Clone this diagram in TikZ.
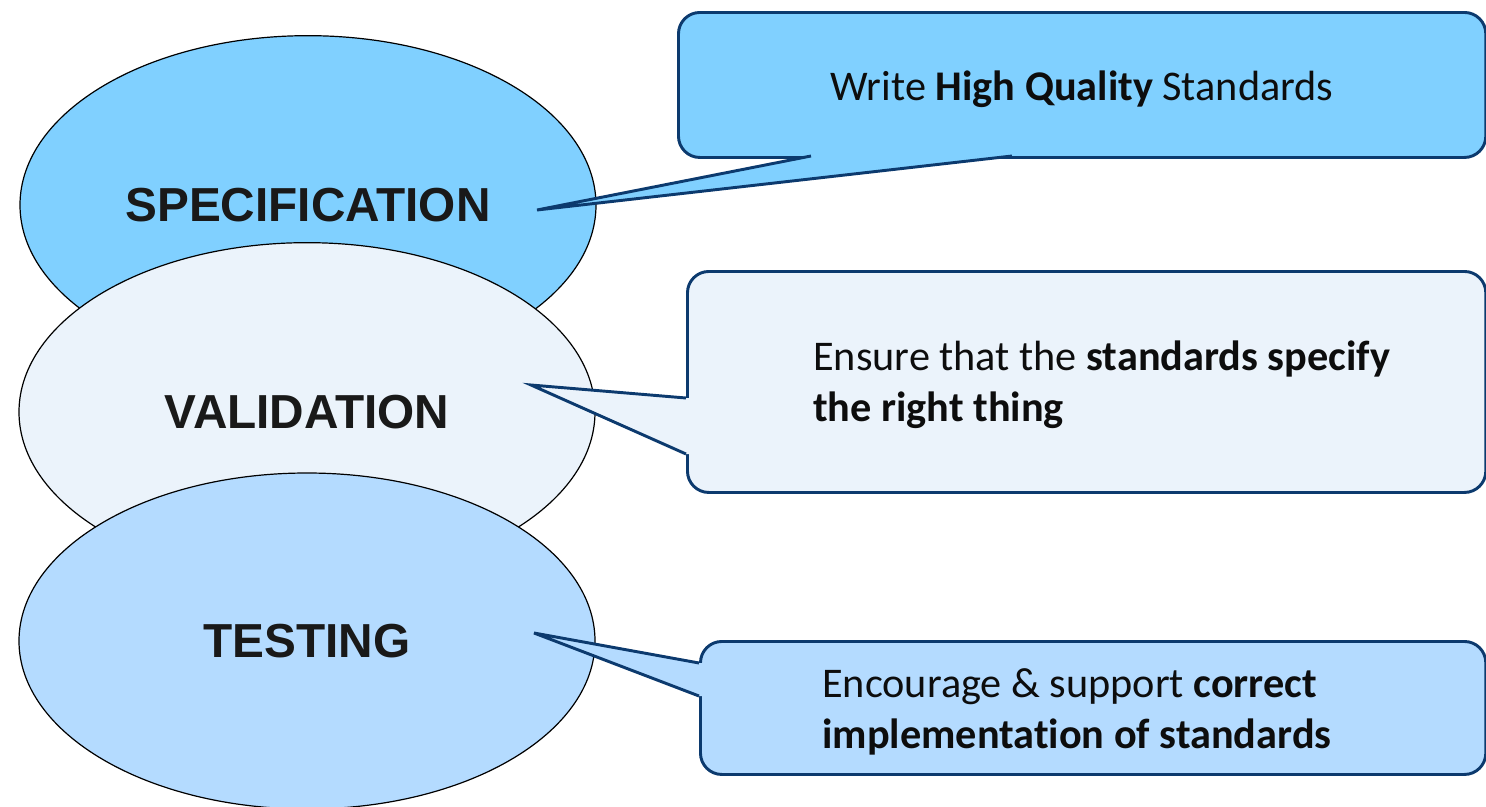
\documentclass[tikz,border=0pt]{standalone}
\usepackage{fontspec}
\setmainfont{Carlito}[Ligatures=NoCommon]
\newfontfamily\headfont{Liberation Sans}
\usetikzlibrary{shapes.geometric,calc}
\definecolor{cA}{HTML}{80D0FF}
\definecolor{cB}{HTML}{EBF3FB}
\definecolor{cC}{HTML}{B4DBFF}
\definecolor{navy}{HTML}{0C3A6E}
\begin{document}
\begin{tikzpicture}[x=0.75pt,y=-0.75pt,
  oval/.style={ellipse, draw=black, line width=0.9pt, minimum width=432pt, minimum height=254pt, inner sep=0pt,
    font=\headfont\bfseries\fontsize{35.8}{40}\selectfont, text=black!90},
  box/.style={draw=navy, line width=2.2pt, rounded corners=16pt, inner sep=0pt, anchor=north west},
  ptr/.style={draw=navy, line width=2.2pt, line join=miter},
  txt/.style={font=\fontsize{31.7}{38.3}\selectfont, align=left, inner sep=0pt, text=black!95}]
\useasboundingbox (0,0) rectangle (1486,807);

% ellipses
\node[oval, fill=cA] (spec) at (308,205) {SPECIFICATION};
\node[oval, fill=cB] (vali) at (307,412) {VALIDATION};
\node[oval, fill=cC, minimum height=252pt] (test) at (307,641) {TESTING};

% callout 1
\node[box, fill=cA, minimum width=605.5pt, minimum height=108.75pt] (b1) at (677,11) {};
\coordinate (p1a) at (811,156);
\coordinate (p1b) at (1012,156);
\coordinate (tip1) at (537,210);
\fill[cA] ($(p1a)+(0,-5)$) -- (p1a) -- (tip1) -- (p1b) -- ($(p1b)+(0,-5)$) -- cycle;
\draw[ptr] (p1a) -- (tip1) -- (p1b);
\node[txt, anchor=base] (t1) at (1082,100) {Write \textbf{High Quality} Standards};

% callout 2
\node[box, fill=cB, minimum width=598.75pt, minimum height=165.75pt] (b2) at (686,270) {};
\coordinate (p2a) at (686,398);
\coordinate (p2b) at (686,454);
\coordinate (tip2) at (531,385);
\fill[cB] ($(p2a)+(5,0)$) -- (p2a) -- (tip2) -- (p2b) -- ($(p2b)+(5,0)$) -- cycle;
\draw[ptr] (p2a) -- (tip2) -- (p2b);
\node[txt, anchor=west] (t2) at (813,385) {Ensure that the \textbf{standards specify}\\\textbf{the right thing}};

% callout 3
\node[box, fill=cC, minimum width=589pt, minimum height=99.75pt] (b3) at (699,640) {};
\coordinate (p3a) at (699,663);
\coordinate (p3b) at (699,696);
\coordinate (tip3) at (534,633);
\fill[cC] ($(p3a)+(5,0)$) -- (p3a) -- (tip3) -- (p3b) -- ($(p3b)+(5,0)$) -- cycle;
\draw[ptr] (p3a) -- (tip3) -- (p3b);
\node[txt, anchor=west] (t3) at (822,712) {Encourage \& support \textbf{correct}\\\textbf{implementation of standards}};
\end{tikzpicture}
\end{document}
